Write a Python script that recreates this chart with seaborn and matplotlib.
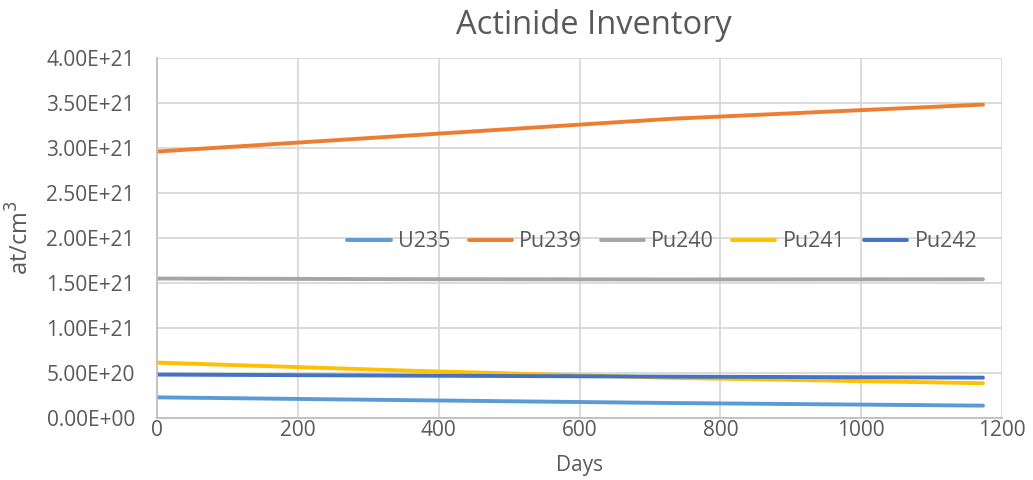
import matplotlib
matplotlib.use("Agg")
import matplotlib.pyplot as plt
import matplotlib.ticker as mticker
import seaborn as sns
import pandas as pd

# Burnup time points (days)
days = [0, 365, 730, 1173]

# Atom densities (at/cm3) per nuclide
u235 = [2.25e20, 1.93e20, 1.62e20, 1.33e20]
pu239 = [2.956e21, 3.138e21, 3.320e21, 3.478e21]
pu240 = [1.545e21, 1.538e21, 1.535e21, 1.537e21]
pu241 = [6.11e20, 5.20e20, 4.42e20, 3.82e20]
pu242 = [4.78e20, 4.66e20, 4.55e20, 4.44e20]

nuclides = ["U235", "Pu239", "Pu240", "Pu241", "Pu242"]
colors = ["#5B9BD5", "#ED7D31", "#A5A5A5", "#FFC000", "#4472C4"]
x_ticks = [0, 200, 400, 600, 800, 1000, 1200]
y_ticks = [0, 0.5e21, 1.0e21, 1.5e21, 2.0e21, 2.5e21, 3.0e21, 3.5e21, 4.0e21]

series = dict(zip(nuclides, [u235, pu239, pu240, pu241, pu242]))
df = pd.DataFrame(
    [(d, name, v) for name, vals in series.items() for d, v in zip(days, vals)],
    columns=["Days", "Nuclide", "Density"],
)

sns.set_theme(style="white")
plt.rcParams["font.family"] = ["Open Sans", "DejaVu Sans"]
text_color = "#595959"

fig = plt.figure(figsize=(10.33, 4.80), dpi=100)
ax = fig.add_axes([0.152, 0.130, 0.818, 0.750])

sns.lineplot(
    data=df, x="Days", y="Density", hue="Nuclide", hue_order=nuclides,
    palette=colors, linewidth=2.8, ax=ax, legend=True,
)

ax.set_xlim(0, 1200)
ax.set_ylim(0, 4.0e21)
ax.set_xticks(x_ticks)
ax.set_yticks(y_ticks)
ax.yaxis.set_major_formatter(mticker.FuncFormatter(lambda v, p: f"{v:.2E}"))
ax.grid(True, color="#D9D9D9", linewidth=1.3)
ax.set_axisbelow(True)
for side in ["top", "right"]:
    ax.spines[side].set_visible(False)
for side in ["left", "bottom"]:
    ax.spines[side].set_color("#BFBFBF")
    ax.spines[side].set_linewidth(1.3)
ax.tick_params(axis="both", length=0, labelsize=15, colors=text_color)
ax.tick_params(axis="x", pad=2)
ax.tick_params(axis="y", pad=16)

ax.set_xlabel("Days", fontsize=15, color=text_color, labelpad=10)
ax.set_ylabel("at/cm$^3$", fontsize=17, color=text_color, labelpad=8)
ax.set_title("Actinide Inventory", fontsize=23.5, color=text_color, pad=17, x=0.517)

leg = ax.legend(
    loc="center", bbox_to_anchor=(0.598, 0.488), ncol=5, frameon=False,
    fontsize=15.5, handlelength=2.0, columnspacing=0.85, handletextpad=0.35,
    labelcolor=text_color,
)
for line in leg.get_lines():
    line.set_linewidth(2.8)

fig.savefig("out.png", dpi=100)
